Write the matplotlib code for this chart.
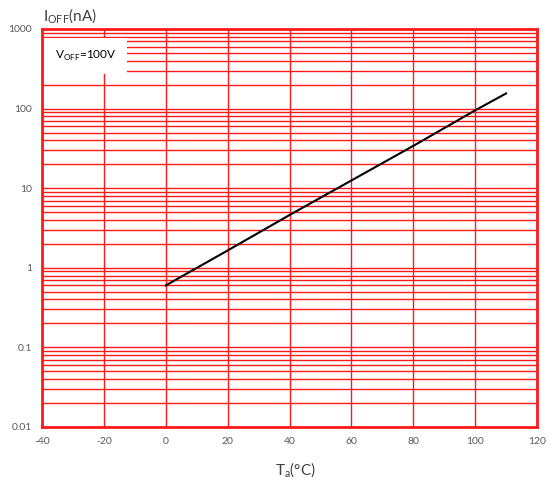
import numpy as np
import matplotlib.pyplot as plt
from matplotlib.ticker import LogLocator, FixedLocator, NullFormatter

plt.rcParams['font.family'] = ['Lato', 'DejaVu Sans']
plt.rcParams['axes.unicode_minus'] = False
plt.rcParams['mathtext.fontset'] = 'custom'
plt.rcParams['mathtext.rm'] = 'Lato'

ta = [0, 20, 40, 60, 80, 100, 110]
ioff = [0.6, 1.65, 4.6, 12.5, 34, 95, 155]
xticks = [-40, -20, 0, 20, 40, 60, 80, 100, 120]
yticks = [0.01, 0.1, 1, 10, 100, 1000]
ylabels = ['0.01', '0.1', '1', '10', '100', '1000']

fig = plt.figure(figsize=(5.56, 4.93), dpi=100)
ax = fig.add_axes([42 / 556, 1 - 427 / 493, 495 / 556, 398 / 493])

ax.set_yscale('log')
ax.set_xlim(-40, 120)
ax.set_ylim(0.01, 1000)
ax.xaxis.set_major_locator(FixedLocator(xticks))
ax.yaxis.set_major_locator(FixedLocator(yticks))
ax.set_yticklabels(ylabels)
ax.yaxis.set_minor_locator(LogLocator(base=10, subs=np.arange(2, 10)))
ax.yaxis.set_minor_formatter(NullFormatter())

ax.grid(True, which='both', axis='y', color='#ff1a1a', lw=1.0)
ax.grid(True, which='major', axis='x', color='#ff1a1a', lw=1.0)
ax.tick_params(which='both', length=0, labelsize=7.5, colors='#595959', pad=7)
for s in ax.spines.values():
    s.set_color('#ff1a1a')
    s.set_linewidth(2)

ax.plot(ta, ioff, color='black', lw=1.5, zorder=5)

ax.text(-26, 457, r'V$_{\rm OFF}$=100V', fontsize=8.5, va='center', ha='center',
        zorder=2.2, bbox=dict(boxstyle='square,pad=0.9', facecolor='white', edgecolor='none'))

fig.text(43 / 556, 1 - 16 / 493, r'I$_{\rm OFF}$(nA)', fontsize=11, color='#404040',
         va='center', ha='left')
fig.text(295 / 556, 1 - 470 / 493, r'T$_{\rm a}$(°C)', fontsize=11, color='#404040',
         va='center', ha='center')

fig.savefig('out.png', dpi=100)
